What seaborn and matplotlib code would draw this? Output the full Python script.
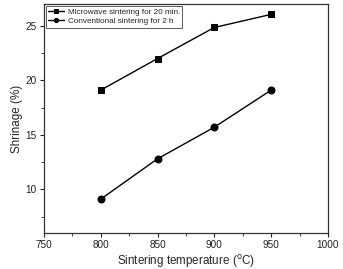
import numpy as np
import pandas as pd
import matplotlib
matplotlib.use("Agg")
import matplotlib.pyplot as plt
import seaborn as sb
from matplotlib.ticker import MultipleLocator

temperature = [800, 850, 900, 950]
microwave = [19.1, 22.0, 24.85, 26.05]
conventional = [9.1, 12.8, 15.7, 19.1]
labels = ["Microwave sintering for 20 min.", "Conventional sintering for 2 h"]

df = pd.DataFrame({
    "temperature": temperature * 2,
    "shrinkage": microwave + conventional,
    "series": [labels[0]] * 4 + [labels[1]] * 4,
})

sb.set_style("ticks")
plt.rcParams['font.family'] = ['Liberation Sans', 'DejaVu Sans']

fig, ax = plt.subplots(figsize=(3.43, 2.69), dpi=100)
fig.subplots_adjust(left=0.128, right=0.956, bottom=0.134, top=0.985)

sb.lineplot(data=df, x="temperature", y="shrinkage", hue="series",
            style="series", markers=["s", "o"], dashes=False,
            palette=["black", "black"], markersize=5, linewidth=1,
            markeredgecolor="black", ax=ax)

ax.set_xlim(750, 1000)
ax.set_ylim(6, 27)
ax.xaxis.set_major_locator(MultipleLocator(50))
ax.xaxis.set_minor_locator(MultipleLocator(25))
ax.yaxis.set_major_locator(MultipleLocator(5))
ax.yaxis.set_minor_locator(MultipleLocator(2.5))
ax.tick_params(which="major", direction="out", length=3, width=0.8,
               labelsize=7.2, colors="#222222", pad=2)
ax.tick_params(which="minor", direction="out", length=2, width=0.6)
for side in ax.spines.values():
    side.set_linewidth(0.9)
    side.set_color("#333333")

ax.set_xlabel("Sintering temperature ($^{\\rm o}$C)", fontsize=8.4, labelpad=2)
ax.set_ylabel("Shrinage (%)", fontsize=8.4, labelpad=2)

leg = ax.legend(loc="upper left", fontsize=5.9, frameon=True, fancybox=False,
                handlelength=2, handletextpad=0.4, borderpad=0.3,
                labelspacing=0.2, borderaxespad=0.2, markerscale=0.6)
leg.get_frame().set_edgecolor("#333333")
leg.get_frame().set_linewidth(0.7)

fig.savefig("out.png", dpi=100)
